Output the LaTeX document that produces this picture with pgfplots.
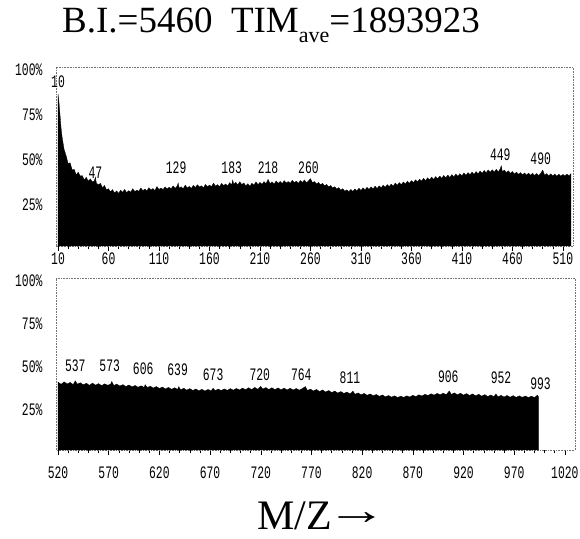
\documentclass[border=0pt]{standalone}
\usepackage{fontspec}
\setmainfont{Liberation Serif}
\newfontfamily\tickfont[FakeStretch=0.65]{Liberation Mono}
\newcommand\tf{\tickfont\fontsize{17.5bp}{18bp}\selectfont}
\usepackage{pgfplots}
\pgfplotsset{compat=1.18}
\pgfplotsset{
  msframe/.style={
    scale only axis,
    ymin=0, ymax=100,
    axis line style={draw=black!55, densely dotted, line width=0.6pt},
    tick align=outside,
    major tick length=5bp, minor tick length=3.5bp,
    xtick pos=bottom,
    minor x tick num=4,
    x tick style={black, solid, line width=0.5pt},
    ytick={25,50,75,100}, yticklabels={25\%,50\%,75\%,100\%},
    ytick style={draw=none},
    yticklabel style={font=\tf, yshift=-3bp, xshift=-5bp},
    xticklabel style={font=\tf},
    /pgf/number format/assume math mode=true,
    /pgf/number format/1000 sep={},
    clip=false,
  }
}
\begin{document}
\begin{tikzpicture}
\useasboundingbox (0,0) rectangle (580bp,539bp);
\node[anchor=base west, inner sep=0pt, font=\fontsize{37bp}{40bp}\selectfont] at (62bp,506bp)
  {B.I.=5460\ \ TIM\raisebox{-10bp}{\fontsize{22bp}{24bp}\selectfont ave}=1893923};
\node[anchor=base west, inner sep=0pt, font=\fontsize{42bp}{44bp}\selectfont] at (257bp,10bp)
  {M/Z\kern-0.12em\raisebox{0.1em}{\scalebox{1.45}[1]{→}}};

% ---------- top panel ----------
\begin{axis}[msframe,
  at={(56bp,293bp)}, anchor=south west, width=517bp, height=179bp,
  xmin=8, xmax=520,
  xtick={10,60,110,160,210,260,310,360,410,460,510},
  xticklabel style={yshift=2bp},
]
\addplot[fill=black, draw=black, line width=0.3pt] coordinates {
(10,85) (11,80) (12,73) (13,66) (14,61) (16,54) (18,50.5) (20,46) (22,46.5) (24,42.5) (26,42.8) (28,39.8)
(30,41.2) (32,39.1) (34,39.3) (36,36.9) (38,38.4) (40,36.2) (42,37.5) (44,35.8) (46,36.4) (47,38.5)
(48,35.1) (50,34.2) (52,35.0) (54,32.6) (56,33.8) (58,31.4) (60,32.0) (62,30.2) (64,31.5) (66,29.6)
(68,30.8) (70,29.4) (72,31.2) (74,30.0) (76,31.6) (78,29.8) (80,30.9) (82,30.1) (84,32.0) (86,30.4)
(88,31.2) (90,30.6) (92,32.4) (94,30.9) (96,31.8) (98,30.7) (100,32.6) (102,31.3) (104,32.1) (106,31.0)
(108,33.2) (110,31.6) (112,32.4) (114,31.5) (116,33.0) (118,31.9) (120,32.8) (122,32.0) (124,33.6) (126,32.2)
(128,33.4) (129,35.2) (130,32.3) (132,33.1) (134,32.0) (136,34.0) (138,32.4) (140,33.3) (142,32.1) (144,33.9)
(146,32.7) (148,34.2) (150,33.0) (152,33.6) (154,32.5) (156,34.4) (158,33.1) (160,34.0) (162,33.2) (164,35.1)
(166,33.4) (168,34.3) (170,33.2) (172,35.0) (174,33.8) (176,34.6) (178,33.5) (180,35.4) (182,34.2) (183,36.8)
(184,34.5) (186,35.6) (188,34.1) (190,35.9) (192,34.3) (194,35.2) (196,33.6) (198,34.8) (200,33.4) (202,35.1)
(204,34.0) (206,35.8) (208,34.3) (210,35.5) (212,34.4) (214,36.0) (216,34.8) (218,37.2) (220,34.9) (222,35.8)
(224,34.6) (226,36.3) (228,35.0) (230,36.1) (232,34.8) (234,36.5) (236,35.2) (238,36.0) (240,35.1) (242,36.7)
(244,35.4) (246,36.2) (248,35.0) (250,36.6) (252,35.5) (254,36.9) (256,35.3) (258,36.4) (260,37.6) (262,35.4)
(264,36.0) (266,34.6) (268,35.5) (270,34.2) (272,35.0) (274,33.6) (276,34.4) (278,33.0) (280,33.8) (282,32.4)
(284,33.1) (286,31.8) (288,32.6) (290,31.2) (292,32.0) (294,30.6) (296,31.4) (298,30.3) (300,31.6) (302,30.5)
(304,31.9) (306,30.8) (308,32.3) (310,31.0) (312,32.5) (314,31.3) (316,32.8) (318,31.6) (320,33.0) (322,31.9)
(324,33.4) (326,32.1) (328,33.6) (330,32.5) (332,34.0) (334,32.8) (336,34.3) (338,33.2) (340,34.6) (342,33.5)
(344,35.2) (346,33.9) (348,35.4) (350,34.3) (352,35.8) (354,34.6) (356,36.2) (358,35.0) (360,36.5) (362,35.4)
(364,37.0) (366,35.8) (368,37.3) (370,36.2) (372,37.8) (374,36.5) (376,38.1) (378,36.9) (380,38.5) (382,37.2)
(384,38.8) (386,37.5) (388,39.1) (390,37.8) (392,39.4) (394,38.1) (396,39.6) (398,38.3) (400,39.9) (402,38.6)
(404,40.2) (406,38.9) (408,40.4) (410,39.2) (412,40.8) (414,39.5) (416,41.0) (418,39.8) (420,41.3) (422,40.0)
(424,41.6) (426,40.3) (428,41.9) (430,40.6) (432,42.2) (434,40.9) (436,42.5) (438,41.2) (440,42.6) (442,41.3)
(444,42.8) (446,41.4) (448,43.2) (449,44.8) (450,41.5) (452,42.4) (454,41.0) (456,42.0) (458,40.6) (460,41.6)
(462,40.2) (464,41.3) (466,40.0) (468,41.0) (470,39.7) (472,40.8) (474,39.6) (476,40.7) (478,39.5) (480,40.6)
(482,39.4) (484,40.5) (486,39.3) (488,40.6) (490,42.4) (492,39.5) (494,40.4) (496,39.2) (498,40.3) (500,39.1)
(502,40.2) (504,39.0) (506,40.1) (508,39.0) (510,40.0) (512,39.1) (514,40.2) (516,39.2) (518,40.4)
} \closedcycle;
\node[font=\tf] at (axis cs:10,91.5) {10};
\node[font=\tf] at (axis cs:47,41) {47};
\node[font=\tf] at (axis cs:127,44) {129};
\node[font=\tf] at (axis cs:182,44) {183};
\node[font=\tf] at (axis cs:218,44) {218};
\node[font=\tf] at (axis cs:258,43.6) {260};
\node[font=\tf] at (axis cs:448,51) {449};
\node[font=\tf] at (axis cs:488,49) {490};
\end{axis}

% ---------- bottom panel ----------
\begin{axis}[msframe,
  at={(56bp,89bp)}, anchor=south west, width=519bp, height=172bp,
  xmin=518, xmax=1030,
  xtick={520,570,620,670,720,770,820,870,920,970,1020},
  xticklabel style={yshift=-8bp},
]
\addplot[fill=black, draw=black, line width=0.3pt] coordinates {
(520,39.5) (523,38.2) (526,39.6) (529,38.4) (532,39.3) (535,38.0) (537,40.2) (539,38.3) (542,39.1) (545,37.9)
(548,38.8) (551,37.6) (554,38.9) (557,37.7) (560,38.6) (563,37.4) (566,38.5) (569,37.6) (572,38.4) (573,39.8)
(575,37.5) (578,38.3) (581,37.2) (584,38.0) (587,36.9) (590,37.8) (593,36.7) (596,37.5) (599,36.5) (602,37.3)
(605,36.4) (606,38.0) (608,36.3) (611,37.1) (614,36.0) (617,36.9) (620,35.8) (623,36.6) (626,35.5) (629,36.4)
(632,35.3) (635,36.2) (638,35.2) (639,36.8) (641,35.0) (644,35.9) (647,34.8) (650,35.7) (653,34.6) (656,35.5)
(659,34.4) (662,35.3) (665,34.3) (668,35.2) (671,34.4) (673,35.9) (675,34.5) (678,35.4) (681,34.6) (684,35.5)
(687,34.7) (690,35.7) (693,34.8) (696,35.8) (699,34.9) (702,36.0) (705,35.0) (708,36.2) (711,35.1) (714,36.4)
(717,35.3) (720,37.0) (722,35.4) (725,36.3) (728,35.2) (731,36.2) (734,35.1) (737,36.1) (740,35.0) (743,36.0)
(746,34.9) (749,35.9) (752,34.9) (755,35.8) (758,34.8) (761,35.7) (764,36.9) (766,34.6) (769,35.4) (772,34.3)
(775,35.2) (778,34.0) (781,34.9) (784,33.7) (787,34.6) (790,33.4) (793,34.3) (796,33.1) (799,34.0) (802,32.9)
(805,33.7) (808,32.6) (811,34.2) (813,32.4) (816,33.2) (819,32.1) (822,32.9) (825,31.8) (828,32.6) (831,31.5)
(834,32.3) (837,31.2) (840,32.0) (843,30.9) (846,31.7) (849,30.7) (852,31.5) (855,30.5) (858,31.3) (861,30.6)
(864,31.5) (867,30.8) (870,31.8) (873,31.1) (876,32.1) (879,31.4) (882,32.4) (885,31.7) (888,32.7) (891,31.9)
(894,32.9) (897,32.1) (900,33.0) (903,32.2) (906,34.3) (908,32.3) (911,33.2) (914,32.1) (917,33.0) (920,31.9)
(923,32.8) (926,31.7) (929,32.6) (932,31.5) (935,32.4) (938,31.3) (941,32.2) (944,31.1) (947,32.0) (950,31.0)
(952,32.6) (954,30.9) (957,31.8) (960,30.8) (963,31.7) (966,30.7) (969,31.6) (972,30.6) (975,31.5) (978,30.6)
(981,31.4) (984,30.5) (987,31.3) (990,30.5) (993,31.9) (994,30.8)
} \closedcycle;
\node[font=\tf] at (axis cs:537,49) {537};
\node[font=\tf] at (axis cs:571,49) {573};
\node[font=\tf] at (axis cs:604,47) {606};
\node[font=\tf] at (axis cs:638,46.5) {639};
\node[font=\tf] at (axis cs:673,44) {673};
\node[font=\tf] at (axis cs:719,44) {720};
\node[font=\tf] at (axis cs:760,43.5) {764};
\node[font=\tf] at (axis cs:808,42) {811};
\node[font=\tf] at (axis cs:905,42.5) {906};
\node[font=\tf] at (axis cs:957,42) {952};
\node[font=\tf] at (axis cs:996,38.5) {993};
\end{axis}
\end{tikzpicture}
\end{document}
